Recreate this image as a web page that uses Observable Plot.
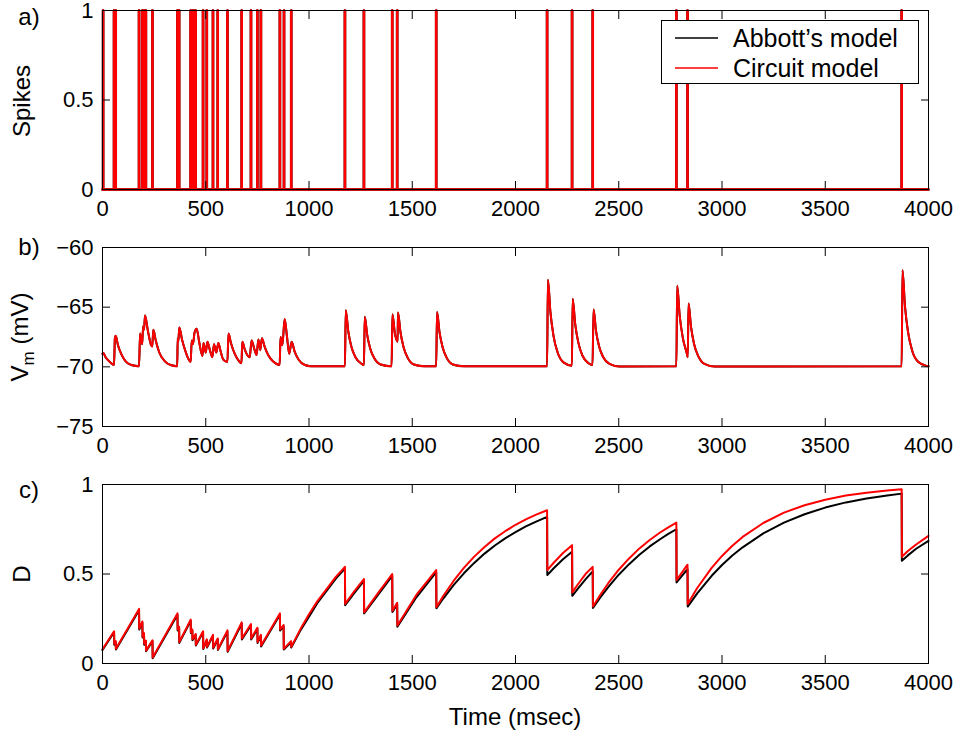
<!DOCTYPE html>
<html><head><meta charset="utf-8">
<script src="https://cdn.jsdelivr.net/npm/d3@7"></script>
<script src="https://cdn.jsdelivr.net/npm/@observablehq/plot@0.6"></script>
<style>
body{margin:0;background:#fff;}
#fig{position:relative;width:961px;height:735px;font-family:"Liberation Sans",Arial,Helvetica,sans-serif;color:#000;overflow:hidden;}
.panel{position:absolute;left:0;}
.lbl{position:absolute;font-size:24px;white-space:nowrap;line-height:1;transform:translate(-50%,-50%);}
.rot{transform:translate(-50%,-50%) rotate(-90deg);}
#legend{position:absolute;left:661px;top:20px;width:256px;height:62px;border:1px solid #000;background:#fff;}
#legend .row{position:absolute;left:0;height:30px;width:256px;}
#legend svg{position:absolute;left:13px;top:0;}
#legend span{position:absolute;left:71px;top:50%;transform:translateY(-50%);font-size:25px;white-space:nowrap;}
</style></head>
<body><div id="fig"></div>
<script>
// ---- data ----
const timeDomain = [0, 4000];
const xTicks = [0, 500, 1000, 1500, 2000, 2500, 3000, 3500, 4000];
const spikeTicks = [0, 0.5, 1];
const vmTicks = [-75, -70, -65, -60];
const dTicks = [0, 0.5, 1];
const vmDomain = [-75, -60];

// spike times (msec), identical for both models
const spikeTimes = [3, 56, 64, 177, 193, 201, 210, 242, 363, 371, 427, 435, 443, 451, 487, 505, 535, 558, 605,
  674, 719, 750, 767, 859, 879, 914, 1174, 1266, 1403, 1427, 1616, 2153, 2274, 2374, 2779, 2833, 3870];

// membrane potential [t, Vm] (both models overlap)
const vmPoints = [
  [0,-68.9],[4,-68.85],[15,-69.2],[30,-69.5],[50,-69.8],[56,-69.85],[60,-67.6],[64,-67.4],[75,-68.2],[90,-68.9],[110,-69.5],[140,-69.85],[177,-69.95],
  [182,-67.2],[192,-68.1],[197,-66.6],[201,-66.9],[206,-65.7],[220,-67.0],[236,-68.2],[241,-68.3],[246,-66.9],[258,-67.8],[275,-68.8],[300,-69.5],[330,-69.85],[362,-69.95],
  [364,-67.6],[367,-67.9],[372,-66.7],[385,-67.7],[400,-68.6],[415,-69.3],[427,-69.6],
  [432,-67.8],[438,-68.1],[446,-67.1],[456,-66.8],[468,-67.9],[484,-69.1],[489,-68.0],[500,-68.8],[508,-67.9],[520,-68.6],[532,-69.2],
  [540,-68.1],[551,-68.8],[561,-68.0],[572,-68.7],[585,-69.4],[605,-69.6],[610,-67.2],[622,-68.0],[640,-68.9],[660,-69.5],[673,-69.7],
  [677,-67.9],[690,-68.6],[713,-69.2],[722,-67.8],[735,-68.5],[746,-69.0],[755,-67.7],[764,-68.6],[772,-67.6],[785,-68.3],[805,-69.1],[830,-69.6],[858,-69.85],
  [862,-67.5],[871,-68.2],[882,-66.0],[893,-67.4],[904,-68.9],[916,-67.9],[930,-68.7],[950,-69.4],[980,-69.85],[1010,-69.95],
  [1174,-69.95],[1178,-65.25],[1190,-67.0],[1205,-68.3],[1225,-69.2],[1255,-69.75],[1266,-69.85],
  [1270,-65.8],[1282,-67.35],[1297,-68.5],[1317,-69.3],[1347,-69.8],[1400,-69.95],
  [1404,-65.6],[1416,-67.2],[1429,-67.9],[1431,-65.45],[1443,-67.1],[1458,-68.35],[1478,-69.25],[1508,-69.8],[1560,-69.95],
  [1616,-69.95],[1620,-65.4],[1632,-67.1],[1647,-68.35],[1667,-69.25],[1697,-69.8],[1750,-69.95],
  [2153,-69.95],[2157,-62.7],[2169,-65.4],[2184,-67.4],[2204,-68.8],[2234,-69.65],[2273,-69.9],
  [2277,-64.3],[2289,-66.4],[2304,-67.95],[2324,-69.05],[2354,-69.7],[2373,-69.85],
  [2378,-65.2],[2390,-67.0],[2405,-68.3],[2425,-69.2],[2455,-69.75],[2505,-69.97],
  [2779,-69.95],[2783,-63.2],[2795,-65.7],[2810,-67.55],[2830,-68.9],[2834,-69.2],
  [2838,-64.7],[2850,-66.65],[2865,-68.1],[2885,-69.1],[2915,-69.75],[2965,-69.97],
  [3870,-69.95],[3874,-61.9],[3886,-64.9],[3901,-67.1],[3921,-68.65],[3951,-69.6],[3990,-69.92],[4000,-69.95]
];

// synaptic depression D : time, circuit model (red), Abbott's model (black)
const dTime = [0,56,57,64,65,177,178,193,194,201,202,210,211,242,243,363,364,371,372,427,428,435,436,451,452,487,488,505,506,535,536,558,559,605,606,
  674,675,719,720,750,751,767,768,859,860,877,878,913,914,960,1000,1040,1085,1130,1174,1175,1220,1266,1267,1335,1403,1404,1427,1428,1520,1616,1617,
  1650,1700,1750,1800,1850,1900,1950,2000,2050,2100,2153,2154,2185,2230,2274,2275,2305,2340,2374,2375,
  2410,2450,2500,2550,2600,2650,2700,2740,2779,2780,2833,2834,
  2880,2950,3000,3050,3100,3200,3300,3400,3500,3600,3700,3800,3870,3871,3900,3940,4000];
const dCircuit = [0.08,0.18,0.11,0.125,0.083,0.305,0.195,0.235,0.15,0.17,0.11,0.128,0.072,0.13,0.033,0.28,0.19,0.205,0.12,0.245,0.175,0.19,0.135,0.165,0.105,0.18,0.085,0.135,0.093,0.16,0.088,0.14,0.08,0.185,0.07,
  0.23,0.14,0.22,0.14,0.2,0.12,0.16,0.1,0.28,0.19,0.215,0.082,0.125,0.093,0.195,0.275,0.347,0.415,0.484,0.54,0.333,0.405,0.472,0.286,0.395,0.5,0.295,0.339,0.212,0.383,0.522,0.314,
  0.377,0.461,0.534,0.597,0.651,0.699,0.739,0.775,0.805,0.832,0.856,0.522,0.563,0.617,0.661,0.397,0.447,0.501,0.54,0.318,
  0.383,0.450,0.524,0.587,0.643,0.690,0.732,0.761,0.787,0.466,0.552,0.333,
  0.422,0.534,0.601,0.658,0.707,0.785,0.843,0.884,0.915,0.938,0.954,0.966,0.973,0.596,0.628,0.665,0.713];
const dAbbott = [0.075,0.175,0.105,0.12,0.078,0.298,0.19,0.228,0.145,0.164,0.105,0.122,0.068,0.125,0.03,0.272,0.184,0.198,0.115,0.238,0.17,0.184,0.13,0.159,0.1,0.174,0.081,0.13,0.089,0.154,0.084,0.134,0.076,0.178,0.066,
  0.222,0.134,0.213,0.134,0.194,0.115,0.154,0.095,0.272,0.184,0.208,0.078,0.119,0.089,0.188,0.262,0.337,0.405,0.474,0.53,0.326,0.395,0.462,0.28,0.385,0.49,0.288,0.33,0.205,0.37,0.51,0.308,
  0.363,0.438,0.504,0.562,0.614,0.659,0.699,0.734,0.766,0.793,0.819,0.494,0.532,0.582,0.624,0.378,0.423,0.471,0.515,0.31,
  0.368,0.428,0.496,0.555,0.607,0.654,0.694,0.724,0.75,0.453,0.527,0.318,
  0.392,0.49,0.55,0.603,0.649,0.727,0.787,0.834,0.871,0.9,0.922,0.939,0.949,0.574,0.604,0.641,0.685];

// ---- build tables ----
const spikeTrace = [{t: timeDomain[0], s: 0}];
for (const s of spikeTimes) { spikeTrace.push({t: s, s: 0}, {t: s, s: 1}, {t: s, s: 0}); }
spikeTrace.push({t: timeDomain[1], s: 0});
const vmData = vmPoints.map(([t, v]) => ({t, v}));
const dData = dTime.map((t, i) => ({t, c: dCircuit[i], a: dAbbott[i]}));

const FONT = '"Liberation Sans", Arial, Helvetica, sans-serif';
const fmt = d3.format("");
function panel(top, yDomain, yTicks, dataMarks) {
  const svg = Plot.plot({
    width: 961, height: 219,
    marginTop: 10, marginBottom: 30, marginLeft: 102, marginRight: 33,
    x: {domain: timeDomain, label: null},
    y: {domain: yDomain, label: null},
    style: {fontFamily: FONT, fontSize: "22px", color: "black", background: "transparent", overflow: "visible"},
    marks: [
      ...dataMarks,
      Plot.frame({stroke: "black", strokeWidth: 1}),
      Plot.axisX(xTicks, {anchor: "bottom", tickSize: 8, dy: -8, tickFormat: () => ""}),
      Plot.axisX(xTicks, {anchor: "top", tickSize: 8, dy: 8, tickFormat: () => ""}),
      Plot.axisY(yTicks, {anchor: "left", tickSize: 8, dx: 8, tickFormat: () => ""}),
      Plot.axisY(yTicks, {anchor: "right", tickSize: 8, dx: -8, tickFormat: () => ""}),
      Plot.axisX(xTicks, {anchor: "bottom", tickSize: 0, tickPadding: 11, tickFormat: fmt}),
      Plot.axisY(yTicks, {anchor: "left", tickSize: 0, tickPadding: 9, tickFormat: fmt})
    ]
  });
  svg.classList.add("panel");
  svg.style.top = top + "px";
  return svg;
}

const fig = document.getElementById("fig");
fig.append(panel(0, [0, 1], spikeTicks, [
  Plot.line(spikeTrace, {x: "t", y: "s", stroke: "black", strokeWidth: 2.6}),
  Plot.line(spikeTrace, {x: "t", y: "s", stroke: "red", strokeWidth: 2.6})
]));
fig.append(panel(237, vmDomain, vmTicks, [
  Plot.line(vmData, {x: "t", y: "v", stroke: "black", strokeWidth: 2, curve: "monotone-x"}),
  Plot.line(vmData, {x: "t", y: "v", stroke: "red", strokeWidth: 2, curve: "monotone-x"})
]));
fig.append(panel(474, [0, 1], dTicks, [
  Plot.line(dData, {x: "t", y: "a", stroke: "black", strokeWidth: 2}),
  Plot.line(dData, {x: "t", y: "c", stroke: "red", strokeWidth: 2})
]));

// labels
function label(html, x, y, rot) {
  const d = document.createElement("div");
  d.className = "lbl" + (rot ? " rot" : "");
  d.style.left = x + "px"; d.style.top = y + "px";
  d.innerHTML = html;
  fig.append(d);
}
label("a)", 29, 17);
label("b)", 29, 247);
label("c)", 29, 490);
label("Spikes", 22, 101, true);
label("V<sub style='font-size:17px;vertical-align:-6px'>m</sub> (mV)", 22, 337, true);
label("D", 22, 574, true);
label("Time (msec)", 515, 717);

// legend
const leg = document.createElement("div");
leg.id = "legend";
leg.innerHTML = `
  <div class="row" style="top:2px"><svg width="44" height="30"><line x1="0" x2="43" y1="15" y2="15" stroke="black" stroke-width="1.5"/></svg><span>Abbott’s model</span></div>
  <div class="row" style="top:32px"><svg width="44" height="30"><line x1="0" x2="43" y1="15" y2="15" stroke="red" stroke-width="1.5"/></svg><span>Circuit model</span></div>`;
fig.append(leg);
</script>
</body></html>
